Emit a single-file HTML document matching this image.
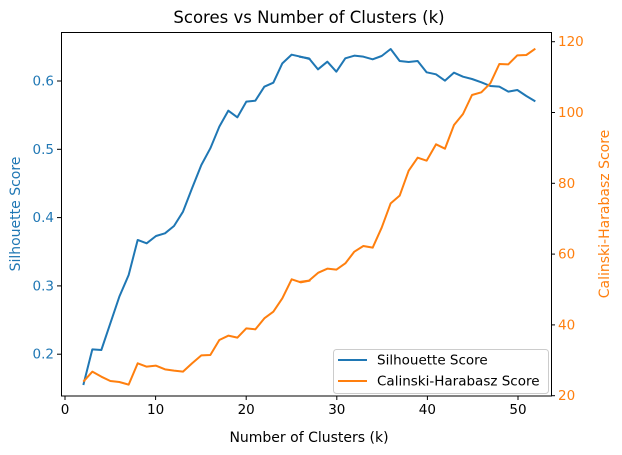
<!DOCTYPE html><html><head><style>body{margin:0;background:#fff}svg{display:block}text{font-family:"DejaVu Sans","Liberation Sans",sans-serif}</style></head><body>
<svg width="622" height="455" viewBox="0 0 622 455" xmlns="http://www.w3.org/2000/svg">
<rect width="622" height="455" fill="#fff"/>
<text x="309" y="23" font-size="16.5" text-anchor="middle">Scores vs Number of Clusters (k)</text>
<g fill="none" stroke-width="2" stroke-linejoin="round">
<g transform="translate(60,30) scale(0.33333)">
<polyline vector-effect="non-scaling-stroke" stroke="#1f77b4" points="70,1065 97,958 124,960 151,880 178,800 206,735 233,630 260,640 288,618 315,610 342,588 369,545 396,475 424,405 451,355 478,290 505,242 532,262 559,215 586,212 613,170 640,158 667,100 695,74 722,80 749,87 748,87"/>
<polyline vector-effect="non-scaling-stroke" stroke="#ff7f0e" points="70,1055 97,1025 124,1040 151,1053 178,1056 206,1064 233,1000 260,1010 288,1007 315,1018 342,1022 369,1025 396,1000 424,976 451,975 478,930 505,917 532,923 559,895 586,898 613,865 640,845 667,805 695,748 722,757 749,752 747,752"/>
</g>
<g transform="translate(300,30) scale(0.33333)">
<polyline vector-effect="non-scaling-stroke" stroke="#1f77b4" points="-3,80 27,85 54,118 82,95 109,125 136,85 163,77 190,80 218,88 245,78 272,57 299,93 326,96 353,93 380,127 408,133 435,152 462,128 489,140 516,147 544,157 571,168 598,170 625,185 652,180 679,198 706,214"/>
<polyline vector-effect="non-scaling-stroke" stroke="#ff7f0e" points="-3,756 27,752 55,728 82,716 109,719 136,700 163,665 190,648 218,653 245,593 272,520 299,497 326,422 353,383 380,392 408,343 435,356 462,285 489,252 516,195 544,187 571,160 598,102 625,103 652,76 679,75 706,56"/>
</g>
</g>
<rect x="61.5" y="32.5" width="490" height="363.5" fill="none" stroke="#000" stroke-width="1"/>
<g stroke="#000" stroke-width="1">
<line x1="65" y1="396" x2="65" y2="400"/><line x1="155.6" y1="396" x2="155.6" y2="400"/><line x1="246.2" y1="396" x2="246.2" y2="400"/><line x1="336.8" y1="396" x2="336.8" y2="400"/><line x1="427.4" y1="396" x2="427.4" y2="400"/><line x1="518" y1="396" x2="518" y2="400"/>
<line x1="57" y1="81" x2="61" y2="81"/><line x1="57" y1="149.3" x2="61" y2="149.3"/><line x1="57" y1="217.6" x2="61" y2="217.6"/><line x1="57" y1="285.9" x2="61" y2="285.9"/><line x1="57" y1="354.2" x2="61" y2="354.2"/>
<line x1="551" y1="41.7" x2="555" y2="41.7"/><line x1="551" y1="112.5" x2="555" y2="112.5"/><line x1="551" y1="183.3" x2="555" y2="183.3"/><line x1="551" y1="254.1" x2="555" y2="254.1"/><line x1="551" y1="324.9" x2="555" y2="324.9"/><line x1="551" y1="395.7" x2="555" y2="395.7"/>
</g>
<g font-size="13.5" text-anchor="middle">
<text x="65" y="414">0</text><text x="155.6" y="414">10</text><text x="246.2" y="414">20</text><text x="336.8" y="414">30</text><text x="427.4" y="414">40</text><text x="518" y="414">50</text>
</g>
<text x="309" y="442" font-size="14" text-anchor="middle">Number of Clusters (k)</text>
<g font-size="13.5" text-anchor="end" fill="#1f77b4">
<text x="54" y="85.5">0.6</text><text x="54" y="153.8">0.5</text><text x="54" y="222.1">0.4</text><text x="54" y="290.4">0.3</text><text x="54" y="358.7">0.2</text>
</g>
<g font-size="13.5" fill="#ff7f0e">
<text x="558" y="46.2">120</text><text x="558" y="117">100</text><text x="558" y="187.8">80</text><text x="558" y="258.6">60</text><text x="558" y="329.4">40</text><text x="558" y="400.2">20</text>
</g>
<text transform="translate(20,214) rotate(-90)" font-size="14" text-anchor="middle" fill="#1f77b4">Silhouette Score</text>
<text transform="translate(609,214) rotate(-90)" font-size="14" text-anchor="middle" fill="#ff7f0e">Calinski-Harabasz Score</text>
<rect x="333.5" y="349.5" width="215" height="44" rx="3" fill="#fff" fill-opacity="0.8" stroke="#ccc"/>
<line x1="338" y1="360" x2="367" y2="360" stroke="#1f77b4" stroke-width="2"/>
<line x1="338" y1="381" x2="367" y2="381" stroke="#ff7f0e" stroke-width="2"/>
<text x="377" y="364.5" font-size="13.5">Silhouette Score</text>
<text x="377" y="385.5" font-size="13.5">Calinski-Harabasz Score</text>
</svg>
</body></html>
